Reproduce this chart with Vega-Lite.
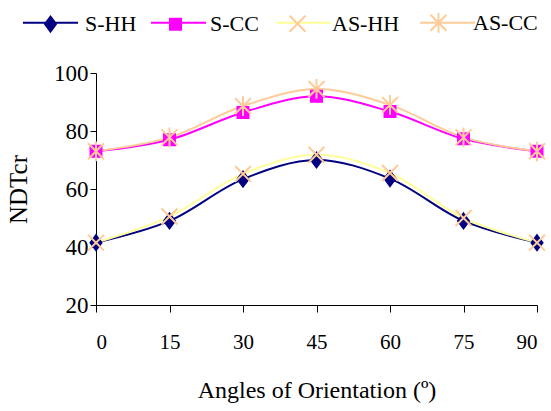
{
  "$schema": "https://vega.github.io/schema/vega-lite/v6.json",
  "width": 441,
  "height": 232,
  "autosize": {"type": "none"},
  "padding": {"left": 96, "top": 73, "right": 14, "bottom": 106},
  "background": "white",
  "config": {
    "font": "Liberation Serif",
    "view": {"stroke": null},
    "legend": {"padding": 0},
    "axis": {
      "grid": false,
      "domainColor": "black",
      "tickColor": "black",
      "labelColor": "black",
      "titleColor": "black",
      "labelFont": "Liberation Serif",
      "titleFont": "Liberation Serif",
      "titleFontWeight": "normal"
    }
  },
  "data": {
    "values": [
      {"series": "S-HH", "angle": 0, "value": 41.5},
      {"series": "S-HH", "angle": 15, "value": 49},
      {"series": "S-HH", "angle": 30, "value": 63.4},
      {"series": "S-HH", "angle": 45, "value": 70},
      {"series": "S-HH", "angle": 60, "value": 63.6},
      {"series": "S-HH", "angle": 75, "value": 49},
      {"series": "S-HH", "angle": 90, "value": 41.5},
      {"series": "S-CC", "angle": 0, "value": 73},
      {"series": "S-CC", "angle": 15, "value": 77},
      {"series": "S-CC", "angle": 30, "value": 86.4},
      {"series": "S-CC", "angle": 45, "value": 92},
      {"series": "S-CC", "angle": 60, "value": 86.7},
      {"series": "S-CC", "angle": 75, "value": 77.3},
      {"series": "S-CC", "angle": 90, "value": 73},
      {"series": "AS-HH", "angle": 0, "value": 41.5},
      {"series": "AS-HH", "angle": 15, "value": 50.5},
      {"series": "AS-HH", "angle": 30, "value": 65.2},
      {"series": "AS-HH", "angle": 45, "value": 71.8},
      {"series": "AS-HH", "angle": 60, "value": 65.5},
      {"series": "AS-HH", "angle": 75, "value": 50},
      {"series": "AS-HH", "angle": 90, "value": 41.5},
      {"series": "AS-CC", "angle": 0, "value": 73},
      {"series": "AS-CC", "angle": 15, "value": 77.8},
      {"series": "AS-CC", "angle": 30, "value": 88.6},
      {"series": "AS-CC", "angle": 45, "value": 94.5},
      {"series": "AS-CC", "angle": 60, "value": 89},
      {"series": "AS-CC", "angle": 75, "value": 77.8},
      {"series": "AS-CC", "angle": 90, "value": 73}
    ]
  },
  "encoding": {
    "x": {
      "field": "angle",
      "type": "quantitative",
      "scale": {"domain": [0, 90], "nice": false},
      "axis": {
        "values": [0, 15, 30, 45, 60, 75, 90],
        "tickSize": 7,
        "labelFontSize": 21,
        "labelPadding": 19,
        "title": "Angles of Orientation (º)",
        "titleFontSize": 24,
        "titlePadding": 26
      }
    },
    "y": {
      "field": "value",
      "type": "quantitative",
      "scale": {"domain": [20, 100], "nice": false},
      "axis": {
        "values": [20, 40, 60, 80, 100],
        "tickSize": 6,
        "labelFontSize": 23,
        "labelPadding": 2,
        "title": "NDTcr",
        "titleFontSize": 25,
        "titlePadding": 22
      }
    }
  },
  "layer": [
    {
      "mark": {"type": "line", "interpolate": "catmull-rom", "strokeWidth": 2},
      "encoding": {
        "color": {
          "field": "series",
          "type": "nominal",
          "sort": ["S-HH", "S-CC", "AS-HH", "AS-CC"],
          "scale": {
            "range": ["#000080", "#FF00FF", "#FFFF99", "#FFCC99"]
          },
          "legend": {
            "orient": "none",
            "legendX": -74,
            "legendY": -79,
            "direction": "horizontal",
            "title": null,
            "symbolType": "stroke",
            "symbolSize": 3025,
            "symbolStrokeWidth": 2,
            "labelFontSize": 22,
            "labelColor": "rgba(0,0,0,0)",
            "labelOffset": 6,
            "columnPadding": 10
          }
        }
      }
    },
    {
      "mark": {"type": "point", "size": 3025, "strokeWidth": 2, "opacity": 1},
      "encoding": {
        "shape": {
          "field": "series",
          "type": "nominal",
          "scale": {
            "domain": ["S-HH", "S-CC", "AS-HH", "AS-CC"],
            "range": [
              "M0,-0.27L0.2,0L0,0.27L-0.2,0Z",
              "M-0.2,-0.2H0.2V0.2H-0.2Z",
              "M-0.29,-0.29L0.29,0.29M-0.29,0.29L0.29,-0.29",
              "M-0.29,-0.29L0.29,0.29M-0.29,0.29L0.29,-0.29M0,-0.36L0,0.36"
            ]
          },
          "legend": {
            "orient": "none",
            "legendX": -74,
            "legendY": -79,
            "direction": "horizontal",
            "title": null,
            "symbolSize": 3025,
            "symbolStrokeWidth": 2,
            "labelFontSize": 22,
            "labelColor": "black",
            "labelOffset": 6,
            "columnPadding": 10
          }
        },
        "fill": {
          "field": "series",
          "type": "nominal",
          "scale": {
            "domain": ["S-HH", "S-CC", "AS-HH", "AS-CC"],
            "range": ["#000080", "#FF00FF", "#FFCC99", "#FFCC99"]
          },
          "legend": {
            "orient": "none",
            "legendX": -74,
            "legendY": -79,
            "direction": "horizontal",
            "title": null,
            "symbolSize": 3025,
            "symbolStrokeWidth": 2,
            "labelFontSize": 22,
            "labelColor": "black",
            "labelOffset": 6,
            "columnPadding": 10
          }
        },
        "stroke": {
          "field": "series",
          "type": "nominal",
          "scale": {
            "domain": ["S-HH", "S-CC", "AS-HH", "AS-CC"],
            "range": ["#000080", "#FF00FF", "#FFCC99", "#FFCC99"]
          },
          "legend": {
            "orient": "none",
            "legendX": -74,
            "legendY": -79,
            "direction": "horizontal",
            "title": null,
            "symbolSize": 3025,
            "symbolStrokeWidth": 2,
            "labelFontSize": 22,
            "labelColor": "black",
            "labelOffset": 6,
            "columnPadding": 10
          }
        }
      }
    }
  ]
}
